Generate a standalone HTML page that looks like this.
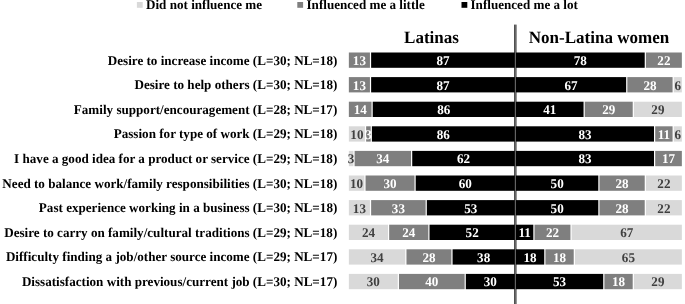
<!DOCTYPE html>
<html><head><meta charset="utf-8"><style>
html,body{margin:0;padding:0;background:#fff;width:685px;height:304px;overflow:hidden;position:relative}
text{font-family:"Liberation Serif",serif;font-weight:bold;text-rendering:geometricPrecision}
.lab{font-size:13.33px;fill:#000}
.v{font-size:13.33px}
.hd{font-size:17.33px;fill:#000}
.lg{font-size:13.33px;fill:#000}
</style></head><body>
<svg width="685" height="304" viewBox="0 0 685 304" style="position:absolute;left:0;top:0;will-change:transform">
<rect x="514.1" y="24.6" width="1.7" height="280" fill="#3c3c3c"/><rect x="515.8" y="24.6" width="1.1" height="280" fill="#8c8c8c"/>
<text transform="translate(337.30,64.60) scale(0.983,1)" text-anchor="end" class="lab">Desire to increase income (L=30; NL=18)</text>
<rect x="348.85" y="52.50" width="21.08" height="15.3" fill="#7f7f7f"/>
<rect x="371.13" y="52.50" width="143.62" height="15.3" fill="#000000"/>
<text transform="translate(359.39,65.05) scale(0.983,1)" text-anchor="middle" class="v" fill="#ffffff">13</text>
<text transform="translate(442.94,65.05) scale(0.983,1)" text-anchor="middle" class="v" fill="#ffffff">87</text>
<rect x="515.95" y="52.50" width="128.77" height="15.3" fill="#000000"/>
<rect x="645.92" y="52.50" width="35.93" height="15.3" fill="#7f7f7f"/>
<text transform="translate(580.33,65.05) scale(0.983,1)" text-anchor="middle" class="v" fill="#ffffff">78</text>
<text transform="translate(663.88,65.05) scale(0.983,1)" text-anchor="middle" class="v" fill="#ffffff">22</text>
<text transform="translate(337.30,89.20) scale(0.983,1)" text-anchor="end" class="lab">Desire to help others (L=30; NL=18)</text>
<rect x="348.85" y="77.10" width="21.08" height="15.3" fill="#7f7f7f"/>
<rect x="371.13" y="77.10" width="143.62" height="15.3" fill="#000000"/>
<text transform="translate(359.39,89.65) scale(0.983,1)" text-anchor="middle" class="v" fill="#ffffff">13</text>
<text transform="translate(442.94,89.65) scale(0.983,1)" text-anchor="middle" class="v" fill="#ffffff">87</text>
<rect x="515.95" y="77.10" width="110.20" height="15.3" fill="#000000"/>
<rect x="627.35" y="77.10" width="45.22" height="15.3" fill="#7f7f7f"/>
<rect x="673.77" y="77.10" width="8.08" height="15.3" fill="#d9d9d9"/>
<text transform="translate(571.05,89.65) scale(0.983,1)" text-anchor="middle" class="v" fill="#ffffff">67</text>
<text transform="translate(649.96,89.65) scale(0.983,1)" text-anchor="middle" class="v" fill="#ffffff">28</text>
<text transform="translate(677.81,89.65) scale(0.983,1)" text-anchor="middle" class="v" fill="#404040">6</text>
<text transform="translate(337.30,113.80) scale(0.983,1)" text-anchor="end" class="lab">Family support/encouragement (L=28; NL=17)</text>
<rect x="348.85" y="101.70" width="22.67" height="15.3" fill="#7f7f7f"/>
<rect x="372.72" y="101.70" width="142.03" height="15.3" fill="#000000"/>
<text transform="translate(360.19,114.25) scale(0.983,1)" text-anchor="middle" class="v" fill="#ffffff">14</text>
<text transform="translate(443.74,114.25) scale(0.983,1)" text-anchor="middle" class="v" fill="#ffffff">86</text>
<rect x="515.95" y="101.70" width="67.61" height="15.3" fill="#000000"/>
<rect x="584.76" y="101.70" width="47.95" height="15.3" fill="#7f7f7f"/>
<rect x="633.90" y="101.70" width="47.95" height="15.3" fill="#d9d9d9"/>
<text transform="translate(549.75,114.25) scale(0.983,1)" text-anchor="middle" class="v" fill="#ffffff">41</text>
<text transform="translate(608.73,114.25) scale(0.983,1)" text-anchor="middle" class="v" fill="#ffffff">29</text>
<text transform="translate(657.88,114.25) scale(0.983,1)" text-anchor="middle" class="v" fill="#404040">29</text>
<text transform="translate(337.30,138.40) scale(0.983,1)" text-anchor="end" class="lab">Passion for type of work (L=29; NL=18)</text>
<rect x="348.85" y="126.30" width="16.09" height="15.3" fill="#d9d9d9"/>
<rect x="366.14" y="126.30" width="4.56" height="15.3" fill="#7f7f7f"/>
<rect x="371.90" y="126.30" width="142.85" height="15.3" fill="#000000"/>
<text transform="translate(356.89,138.85) scale(0.983,1)" text-anchor="middle" class="v" fill="#404040">10</text>
<text transform="translate(368.42,138.85) scale(0.983,1)" text-anchor="middle" class="v" fill="#ffffff">3</text>
<text transform="translate(443.32,138.85) scale(0.983,1)" text-anchor="middle" class="v" fill="#ffffff">86</text>
<rect x="515.95" y="126.30" width="138.05" height="15.3" fill="#000000"/>
<rect x="655.20" y="126.30" width="17.37" height="15.3" fill="#7f7f7f"/>
<rect x="673.77" y="126.30" width="8.08" height="15.3" fill="#d9d9d9"/>
<text transform="translate(584.98,138.85) scale(0.983,1)" text-anchor="middle" class="v" fill="#ffffff">83</text>
<text transform="translate(663.88,138.85) scale(0.983,1)" text-anchor="middle" class="v" fill="#ffffff">11</text>
<text transform="translate(677.81,138.85) scale(0.983,1)" text-anchor="middle" class="v" fill="#404040">6</text>
<text transform="translate(337.30,163.00) scale(0.983,1)" text-anchor="end" class="lab">I have a good idea for a product or service (L=29; NL=18)</text>
<rect x="348.85" y="150.90" width="4.56" height="15.3" fill="#d9d9d9"/>
<rect x="354.61" y="150.90" width="56.42" height="15.3" fill="#7f7f7f"/>
<rect x="412.23" y="150.90" width="102.52" height="15.3" fill="#000000"/>
<text transform="translate(351.13,163.45) scale(0.983,1)" text-anchor="middle" class="v" fill="#404040">3</text>
<text transform="translate(382.82,163.45) scale(0.983,1)" text-anchor="middle" class="v" fill="#ffffff">34</text>
<text transform="translate(463.49,163.45) scale(0.983,1)" text-anchor="middle" class="v" fill="#ffffff">62</text>
<rect x="515.95" y="150.90" width="138.05" height="15.3" fill="#000000"/>
<rect x="655.20" y="150.90" width="26.65" height="15.3" fill="#7f7f7f"/>
<text transform="translate(584.98,163.45) scale(0.983,1)" text-anchor="middle" class="v" fill="#ffffff">83</text>
<text transform="translate(668.52,163.45) scale(0.983,1)" text-anchor="middle" class="v" fill="#ffffff">17</text>
<text transform="translate(337.30,187.60) scale(0.983,1)" text-anchor="end" class="lab">Need to balance work/family responsibilities (L=30; NL=18)</text>
<rect x="348.85" y="175.50" width="15.51" height="15.3" fill="#d9d9d9"/>
<rect x="365.56" y="175.50" width="48.93" height="15.3" fill="#7f7f7f"/>
<rect x="415.69" y="175.50" width="99.06" height="15.3" fill="#000000"/>
<text transform="translate(356.61,188.05) scale(0.983,1)" text-anchor="middle" class="v" fill="#404040">10</text>
<text transform="translate(390.02,188.05) scale(0.983,1)" text-anchor="middle" class="v" fill="#ffffff">30</text>
<text transform="translate(465.22,188.05) scale(0.983,1)" text-anchor="middle" class="v" fill="#ffffff">60</text>
<rect x="515.95" y="175.50" width="82.35" height="15.3" fill="#000000"/>
<rect x="599.50" y="175.50" width="45.22" height="15.3" fill="#7f7f7f"/>
<rect x="645.92" y="175.50" width="35.93" height="15.3" fill="#d9d9d9"/>
<text transform="translate(557.12,188.05) scale(0.983,1)" text-anchor="middle" class="v" fill="#ffffff">50</text>
<text transform="translate(622.11,188.05) scale(0.983,1)" text-anchor="middle" class="v" fill="#ffffff">28</text>
<text transform="translate(663.88,188.05) scale(0.983,1)" text-anchor="middle" class="v" fill="#404040">22</text>
<text transform="translate(337.30,212.20) scale(0.983,1)" text-anchor="end" class="lab">Past experience working in a business (L=30; NL=18)</text>
<rect x="348.85" y="200.10" width="21.08" height="15.3" fill="#d9d9d9"/>
<rect x="371.13" y="200.10" width="54.50" height="15.3" fill="#7f7f7f"/>
<rect x="426.83" y="200.10" width="87.92" height="15.3" fill="#000000"/>
<text transform="translate(359.39,212.65) scale(0.983,1)" text-anchor="middle" class="v" fill="#404040">13</text>
<text transform="translate(398.38,212.65) scale(0.983,1)" text-anchor="middle" class="v" fill="#ffffff">33</text>
<text transform="translate(470.79,212.65) scale(0.983,1)" text-anchor="middle" class="v" fill="#ffffff">53</text>
<rect x="515.95" y="200.10" width="82.35" height="15.3" fill="#000000"/>
<rect x="599.50" y="200.10" width="45.22" height="15.3" fill="#7f7f7f"/>
<rect x="645.92" y="200.10" width="35.93" height="15.3" fill="#d9d9d9"/>
<text transform="translate(557.12,212.65) scale(0.983,1)" text-anchor="middle" class="v" fill="#ffffff">50</text>
<text transform="translate(622.11,212.65) scale(0.983,1)" text-anchor="middle" class="v" fill="#ffffff">28</text>
<text transform="translate(663.88,212.65) scale(0.983,1)" text-anchor="middle" class="v" fill="#404040">22</text>
<text transform="translate(337.30,236.80) scale(0.983,1)" text-anchor="end" class="lab">Desire to carry on family/cultural traditions (L=29; NL=18)</text>
<rect x="348.85" y="224.70" width="39.13" height="15.3" fill="#d9d9d9"/>
<rect x="389.18" y="224.70" width="39.13" height="15.3" fill="#7f7f7f"/>
<rect x="429.52" y="224.70" width="85.23" height="15.3" fill="#000000"/>
<text transform="translate(368.42,237.25) scale(0.983,1)" text-anchor="middle" class="v" fill="#404040">24</text>
<text transform="translate(408.75,237.25) scale(0.983,1)" text-anchor="middle" class="v" fill="#ffffff">24</text>
<text transform="translate(472.13,237.25) scale(0.983,1)" text-anchor="middle" class="v" fill="#ffffff">52</text>
<rect x="515.95" y="224.70" width="17.37" height="15.3" fill="#000000"/>
<rect x="534.52" y="224.70" width="35.93" height="15.3" fill="#7f7f7f"/>
<rect x="571.65" y="224.70" width="110.20" height="15.3" fill="#d9d9d9"/>
<text transform="translate(524.63,237.25) scale(0.983,1)" text-anchor="middle" class="v" fill="#ffffff">11</text>
<text transform="translate(552.48,237.25) scale(0.983,1)" text-anchor="middle" class="v" fill="#ffffff">22</text>
<text transform="translate(626.75,237.25) scale(0.983,1)" text-anchor="middle" class="v" fill="#404040">67</text>
<text transform="translate(337.30,261.40) scale(0.983,1)" text-anchor="end" class="lab">Difficulty finding a job/other source income (L=29; NL=17)</text>
<rect x="348.85" y="249.30" width="56.42" height="15.3" fill="#d9d9d9"/>
<rect x="406.47" y="249.30" width="44.90" height="15.3" fill="#7f7f7f"/>
<rect x="452.57" y="249.30" width="62.18" height="15.3" fill="#000000"/>
<text transform="translate(377.06,261.85) scale(0.983,1)" text-anchor="middle" class="v" fill="#404040">34</text>
<text transform="translate(428.92,261.85) scale(0.983,1)" text-anchor="middle" class="v" fill="#ffffff">28</text>
<text transform="translate(483.66,261.85) scale(0.983,1)" text-anchor="middle" class="v" fill="#ffffff">38</text>
<rect x="515.95" y="249.30" width="28.29" height="15.3" fill="#000000"/>
<rect x="545.44" y="249.30" width="28.29" height="15.3" fill="#7f7f7f"/>
<rect x="574.93" y="249.30" width="106.92" height="15.3" fill="#d9d9d9"/>
<text transform="translate(530.09,261.85) scale(0.983,1)" text-anchor="middle" class="v" fill="#ffffff">18</text>
<text transform="translate(559.58,261.85) scale(0.983,1)" text-anchor="middle" class="v" fill="#ffffff">18</text>
<text transform="translate(628.39,261.85) scale(0.983,1)" text-anchor="middle" class="v" fill="#404040">65</text>
<text transform="translate(337.30,286.00) scale(0.983,1)" text-anchor="end" class="lab">Dissatisfaction with previous/current job (L=30; NL=17)</text>
<rect x="348.85" y="273.90" width="48.93" height="15.3" fill="#d9d9d9"/>
<rect x="398.98" y="273.90" width="65.64" height="15.3" fill="#7f7f7f"/>
<rect x="465.82" y="273.90" width="48.93" height="15.3" fill="#000000"/>
<text transform="translate(373.31,286.45) scale(0.983,1)" text-anchor="middle" class="v" fill="#404040">30</text>
<text transform="translate(431.80,286.45) scale(0.983,1)" text-anchor="middle" class="v" fill="#ffffff">40</text>
<text transform="translate(490.29,286.45) scale(0.983,1)" text-anchor="middle" class="v" fill="#ffffff">30</text>
<rect x="515.95" y="273.90" width="87.26" height="15.3" fill="#000000"/>
<rect x="604.41" y="273.90" width="28.29" height="15.3" fill="#7f7f7f"/>
<rect x="633.90" y="273.90" width="47.95" height="15.3" fill="#d9d9d9"/>
<text transform="translate(559.58,286.45) scale(0.983,1)" text-anchor="middle" class="v" fill="#ffffff">53</text>
<text transform="translate(618.56,286.45) scale(0.983,1)" text-anchor="middle" class="v" fill="#ffffff">18</text>
<text transform="translate(657.88,286.45) scale(0.983,1)" text-anchor="middle" class="v" fill="#404040">29</text>
<text transform="translate(431.50,42.80) scale(0.983,1)" text-anchor="middle" class="hd">Latinas</text>
<text transform="translate(599.00,42.80) scale(0.983,1)" text-anchor="middle" class="hd">Non-Latina women</text>
<rect x="136.9" y="2.0" width="5.8" height="5.8" fill="#d9d9d9"/>
<text transform="translate(146.00,9.30) scale(0.983,1)" class="lg">Did not influence me</text>
<rect x="297.3" y="2.0" width="5.8" height="5.8" fill="#7f7f7f"/>
<text transform="translate(306.50,9.30) scale(0.983,1)" class="lg">Influenced me a little</text>
<rect x="461.5" y="2.0" width="5.8" height="5.8" fill="#000000"/>
<text transform="translate(470.50,9.30) scale(0.983,1)" class="lg">Influenced me a lot</text>
</svg>
</body></html>
